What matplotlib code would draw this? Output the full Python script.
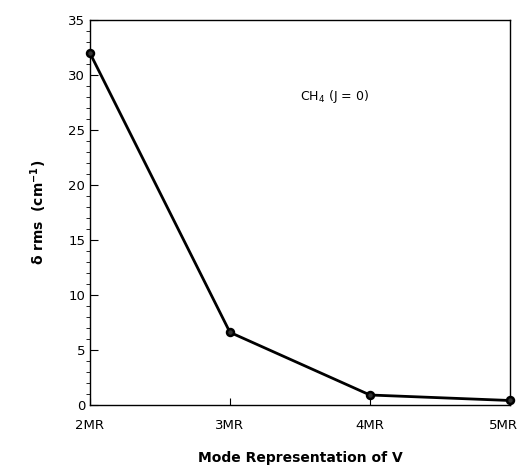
import matplotlib.pyplot as plt
import matplotlib.transforms as mtransforms
from matplotlib.ticker import MultipleLocator

# data
modes = ['2MR', '3MR', '4MR', '5MR']
delta_rms = [32.0, 6.6, 0.9, 0.4]

fig = plt.figure(figsize=(5.23, 4.67), dpi=100)
ax = fig.add_axes([0.172, 0.133, 0.803, 0.824])

x = list(range(len(modes)))
ax.plot(x, delta_rms, color='black', linewidth=2, marker='o', markersize=5,
        markerfacecolor='#333333', markeredgewidth=1.8, clip_on=False, zorder=3)

ax.set_xlim(0, 3)
ax.set_ylim(0, 35)
ax.set_xticks(x)
ax.set_xticklabels(modes)
ax.yaxis.set_major_locator(MultipleLocator(5))
ax.yaxis.set_minor_locator(MultipleLocator(1))
ax.tick_params(direction='in', labelsize=9.5, colors='black')
ax.tick_params(axis='y', which='major', length=6)
ax.tick_params(axis='y', which='minor', length=3)
ax.tick_params(axis='x', length=5, pad=10)
for s in ax.spines.values():
    s.set_linewidth(1)

# keep the last x label inside the figure
last = ax.get_xticklabels()[-1]
last.set_transform(last.get_transform() +
                   mtransforms.ScaledTranslation(-5 / 72, 0, fig.dpi_scale_trans))

ax.text(1.5, 27.7, r'CH$_4$ (J = 0)', fontsize=9)

ax.set_xlabel('Mode Representation of V', fontweight='bold', fontsize=10, labelpad=14)
ax.set_ylabel(r'$\mathbf{\delta}$ rms  (cm$^{\mathbf{-1}}$)', fontweight='bold', fontsize=10, labelpad=14)

fig.savefig('out.png', dpi=100)
